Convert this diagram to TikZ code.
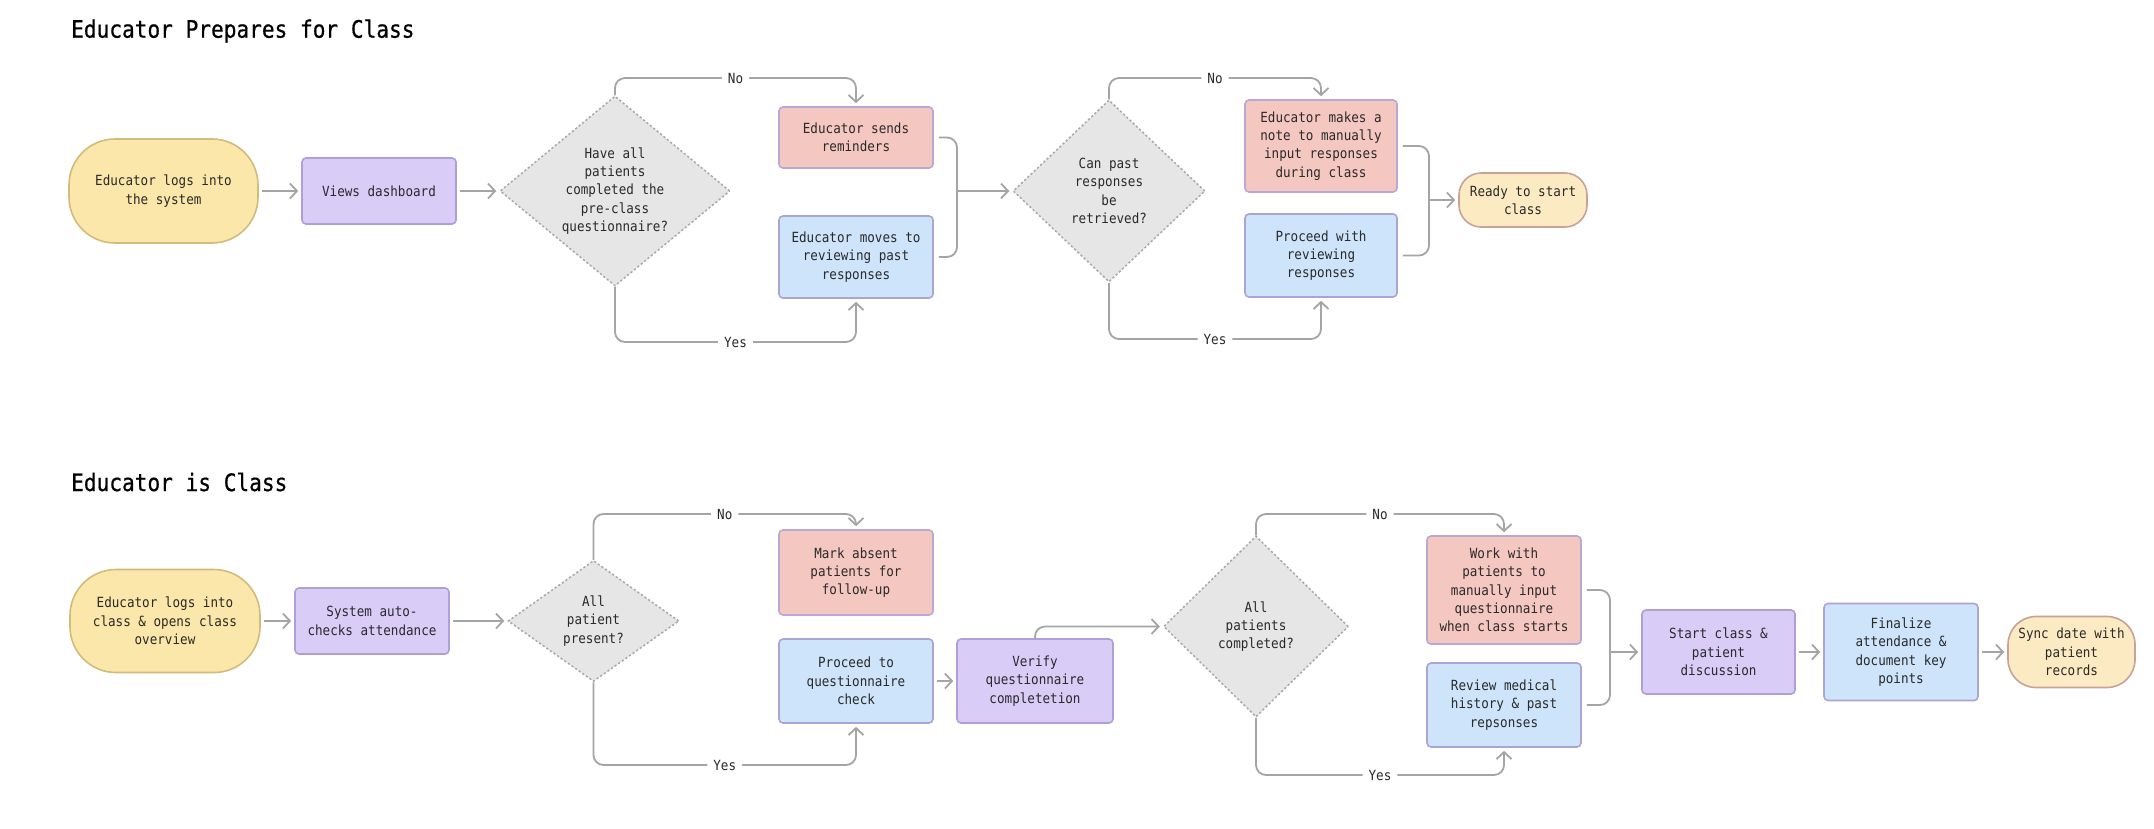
\documentclass[tikz,border=0pt]{standalone}
\usepackage{fontspec}
\setmainfont[FakeStretch=0.9]{DejaVu Sans Mono}
\newfontfamily\ttlfont[FakeStretch=0.88,FakeBold=0.6]{DejaVu Sans Mono}
\usetikzlibrary{arrows.meta,shapes.geometric,calc}
\definecolor{yfill}{HTML}{FAE7A9}
\definecolor{ydraw}{HTML}{D1BC7C}
\definecolor{pfill}{HTML}{D9CCF7}
\definecolor{pdraw}{HTML}{AE9FD9}
\definecolor{kfill}{HTML}{F5C7C1}
\definecolor{kdraw}{HTML}{B9A7D5}
\definecolor{bfill}{HTML}{CDE4FB}
\definecolor{bdraw}{HTML}{ABA4D4}
\definecolor{rfill}{HTML}{FCEBC2}
\definecolor{rdraw}{HTML}{C9A19B}
\definecolor{dfill}{HTML}{E6E6E6}
\definecolor{ddraw}{HTML}{A8A8A8}
\definecolor{lcol}{HTML}{A5A5A5}
\definecolor{txt}{HTML}{2A2A2A}
\begin{document}
\begin{tikzpicture}[x=1pt,y=-1pt,
  base/.style={font=\fontsize{14}{18.3}\selectfont, text=txt, align=center, inner sep=0pt, line width=1.6pt},
  boxnode/.style={base, rectangle, rounded corners=4pt, draw},
  term/.style={boxnode, fill=yfill, draw=ydraw},
  termb/.style={boxnode, fill=rfill, draw=rdraw},
  purp/.style={boxnode, fill=pfill, draw=pdraw},
  pink/.style={boxnode, fill=kfill, draw=kdraw},
  blue/.style={boxnode, fill=bfill, draw=bdraw},
  dia/.style={base, shape=diamond, draw=ddraw, fill=dfill, dash pattern=on 2.2pt off 2.2pt, line width=1.5pt},
  ttl/.style={font=\ttlfont\fontsize{24}{28}\selectfont, text=black, anchor=west, inner sep=0pt},
  conn/.style={draw=lcol, line width=1.8pt, rounded corners=10pt},
  arr/.style={conn, -{Straight Barb[length=7pt,width=15pt]}, shorten >=3pt},
  lbl/.style={font=\fontsize{14}{16}\selectfont, text=txt, fill=white, inner xsep=6pt, inner ysep=2pt}
]
\useasboundingbox[fill=white] (0,0) rectangle (2154,828);

% ---------- Top section ----------
\node[ttl] (t1) at (71,31) {Educator Prepares for Class};
\node[term, minimum width=189, minimum height=104, rounded corners=46pt] (s1) at (163.5,191) {Educator logs into\\the system};
\node[purp, minimum width=154, minimum height=66] (dash) at (379,191) {Views dashboard};
\node[dia, minimum width=230, minimum height=190, aspect=1.21] (d1) at (615,191) {Have all\\patients\\completed the\\pre-class\\questionnaire?};
\node[pink, minimum width=154, minimum height=61] (rem) at (856,137.5) {Educator sends\\reminders};
\node[blue, minimum width=154, minimum height=82] (mov) at (856,257) {Educator moves to\\reviewing past\\responses};
\node[dia, minimum width=192, minimum height=182, aspect=1.05] (d2) at (1109,191) {Can past\\responses\\be\\retrieved?};
\node[pink, minimum width=152, minimum height=92] (note) at (1321,146) {Educator makes a\\note to manually\\input responses\\during class};
\node[blue, minimum width=152, minimum height=83] (prc) at (1321,255.5) {Proceed with\\reviewing\\responses};
\node[termb, minimum width=128, minimum height=54, rounded corners=22pt] (ready) at (1523,200) {Ready to start\\class};

\coordinate (r1no) at (0,78);
\coordinate (r1yes) at (0,342);
\coordinate (r2yes) at (0,339);
\coordinate (m1) at (957,191);
\coordinate (m2) at (1429,200);

\draw[arr, shorten <=3pt] (s1.east) -- (dash.west);
\draw[arr, shorten <=3pt] (dash.east) -- (d1.west);
\draw[arr] (d1.north) -- (d1.north |- r1no) -| node[lbl,pos=0.25]{No} (rem.north);
\draw[arr] (d1.south) -- (d1.south |- r1yes) -| node[lbl,pos=0.25]{Yes} (mov.south);
\draw[conn, shorten <=5pt] (rem.east) -| (m1);
\draw[conn, shorten <=5pt] (mov.east) -| (m1);
\draw[arr] (m1) -- (d2.west);
\draw[arr] (d2.north) -- (d2.north |- r1no) -| node[lbl,pos=0.25]{No} (note.north);
\draw[arr] (d2.south) -- (d2.south |- r2yes) -| node[lbl,pos=0.25]{Yes} (prc.south);
\draw[conn, shorten <=5pt] (note.east) -| (m2);
\draw[conn, shorten <=5pt] (prc.east) -| (m2);
\draw[arr] (m2) -- (ready.west);

% ---------- Bottom section ----------
\node[ttl] (t2) at (71,482) {Educator is Class};
\node[term, minimum width=190, minimum height=103, rounded corners=46pt] (s2) at (165,621) {Educator logs into\\class \& opens class\\overview};
\node[purp, minimum width=154, minimum height=66] (sys) at (372,621) {System auto-\\checks attendance};
\node[dia, minimum width=171, minimum height=121, aspect=1.41] (d3) at (593.5,621) {All\\patient\\present?};
\node[pink, minimum width=154, minimum height=85] (mark) at (856,572.5) {Mark absent\\patients for\\follow-up};
\node[blue, minimum width=154, minimum height=84] (pq) at (856,681) {Proceed to\\questionnaire\\check};
\node[purp, minimum width=156, minimum height=84] (ver) at (1035,681) {Verify\\questionnaire\\completetion};
\node[dia, minimum width=185, minimum height=181, aspect=1.02] (d4) at (1256,626.5) {All\\patients\\completed?};
\node[pink, minimum width=154, minimum height=108] (work) at (1504,590) {Work with\\patients to\\manually input\\questionnaire\\when class starts};
\node[blue, minimum width=154, minimum height=84] (rev) at (1504,705) {Review medical\\history \& past\\repsonses};
\node[purp, minimum width=153, minimum height=84] (scls) at (1718.5,652) {Start class \&\\patient\\discussion};
\node[blue, minimum width=154, minimum height=97] (fin) at (1901,652) {Finalize\\attendance \&\\document key\\points};
\node[termb, minimum width=127, minimum height=71, rounded corners=28pt] (sync) at (2071.5,652) {Sync date with\\patient\\records};

\coordinate (r3no) at (0,514);
\coordinate (r3yes) at (0,765);
\coordinate (r4yes) at (0,775);
\coordinate (m3) at (1610,652);

\draw[arr, shorten <=3pt] (s2.east) -- (sys.west);
\draw[arr, shorten <=3pt] (sys.east) -- (d3.west);
\draw[arr] (d3.north) -- (d3.north |- r3no) -| node[lbl,pos=0.25]{No} (mark.north);
\draw[arr] (d3.south) -- (d3.south |- r3yes) -| node[lbl,pos=0.25]{Yes} (pq.south);
\draw[arr, shorten <=3pt] (pq.east) -- (ver.west);
\draw[arr] (ver.north) |- (d4.west);
\draw[arr] (d4.north) -- (d4.north |- r3no) -| node[lbl,pos=0.25]{No} (work.north);
\draw[arr] (d4.south) -- (d4.south |- r4yes) -| node[lbl,pos=0.25]{Yes} (rev.south);
\draw[conn, shorten <=5pt] (work.east) -| (m3);
\draw[conn, shorten <=5pt] (rev.east) -| (m3);
\draw[arr] (m3) -- (scls.west);
\draw[arr, shorten <=3pt] (scls.east) -- (fin.west);
\draw[arr, shorten <=3pt] (fin.east) -- (sync.west);
\end{tikzpicture}
\end{document}
